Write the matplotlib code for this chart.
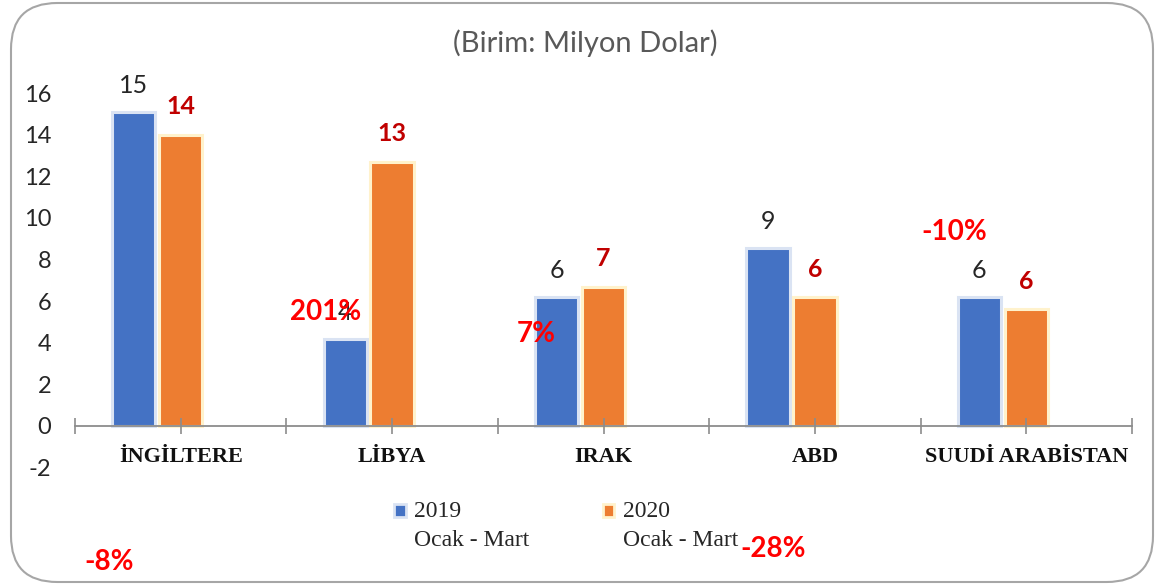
import matplotlib.pyplot as plt
from matplotlib.patches import FancyBboxPatch

plt.rcParams["axes.unicode_minus"] = False

countries = ["İNGİLTERE", "LİBYA", "IRAK", "ABD", "SUUDİ ARABİSTAN"]
values_2019 = [15.1, 4.2, 6.2, 8.55, 6.2]
values_2020 = [14.0, 12.7, 6.7, 6.2, 5.6]
labels_2019 = ["15", "4", "6", "9", "6"]
labels_2020 = ["14", "13", "7", "6", "6"]
legend_labels = ["2019\nOcak - Mart", "2020\nOcak - Mart"]
# change labels, floating text boxes as in the original sheet (pixel positions)
pct_texts = ["-8%", "201%", "7%", "-28%", "-10%"]
pct_pos = [(109, 562), (326, 312), (536, 334), (773, 549), (954, 232)]

W, H = 1156, 584
fig = plt.figure(figsize=(W / 100, H / 100), dpi=100)

# rounded chart border
frame = FancyBboxPatch((11 / W, 2 / H), 1142 / W, 579 / H,
                       boxstyle="round,pad=0,rounding_size=0.04",
                       transform=fig.transFigure, fill=False,
                       edgecolor="#a6a6a6", linewidth=1.5,
                       mutation_aspect=W / H)
fig.patches.append(frame)

ax = fig.add_axes([75 / W, 1 - 467.6 / H, (1132 - 75) / W, (467.6 - 93) / H])
ax.set_xlim(-0.5, len(countries) - 0.5)
ax.set_ylim(-2, 16)

x = list(range(len(countries)))
bw = 0.205
x_2019 = [i - 0.222 for i in x]
bars1 = ax.bar(x_2019, values_2019, width=bw, color="#4472C4",
               edgecolor="#DAE3F3", linewidth=2.2, label=legend_labels[0])
bars2 = ax.bar(x, values_2020, width=bw, color="#ED7D31",
               edgecolor="#FFF2CC", linewidth=2.2, label=legend_labels[1])

for b, t in zip(bars1, labels_2019):
    ax.annotate(t, (b.get_x() + b.get_width() / 2, b.get_height()),
                xytext=(0, 19), textcoords="offset points", ha="center",
                va="center", fontsize=18, family="Lato", color="#262626")
for b, t in zip(bars2, labels_2020):
    ax.annotate(t, (b.get_x() + b.get_width() / 2, b.get_height()),
                xytext=(0, 20), textcoords="offset points", ha="center",
                va="center", fontsize=18, family="Lato", weight="bold",
                color="#C00000")

for s in ["top", "right", "left"]:
    ax.spines[s].set_visible(False)
ax.spines["bottom"].set_position(("data", 0))
ax.spines["bottom"].set_color("#8c8c8c")
ax.spines["bottom"].set_linewidth(1.3)

ax.set_xticks([i * 0.5 - 0.5 for i in range(2 * len(countries) + 1)])
ax.set_xticklabels([])
ax.tick_params(axis="x", direction="inout", length=12, width=1.2,
               color="#8c8c8c")
ax.set_yticks(range(-2, 17, 2))
ax.tick_params(axis="y", length=0, pad=17, labelsize=17, labelcolor="#262626")
for lbl in ax.get_yticklabels():
    lbl.set_family("Lato")

for i, c in enumerate(countries):
    ax.text(i, -1.49, c, ha="center", va="center", fontsize=16,
            family="Liberation Serif", weight="bold", color="#111111")

leg = ax.legend(loc="center", bbox_to_anchor=(566 / W, 1 - 526 / H),
                bbox_transform=fig.transFigure, ncol=2, frameon=False,
                prop={"family": "Liberation Serif", "size": 17},
                handlelength=0.5, handleheight=0.5, handletextpad=0.35,
                columnspacing=3.1, labelcolor="#262626")
for t in leg.get_texts():
    t.set_linespacing(1.45)
for h in leg.legend_handles:
    h.set_y(h.get_y() + 11)
    h.set_linewidth(2)

fig.text(585 / W, 1 - 43 / H, "(Birim: Milyon Dolar)", ha="center",
         va="center", fontsize=21, family="Lato", color="#595959")

for t, (px, py) in zip(pct_texts, pct_pos):
    fig.text(px / W, 1 - py / H, t, ha="center", va="center", fontsize=20,
             family="Lato", weight="bold", color="#FF0000")

fig.savefig("out.png", dpi=100)
